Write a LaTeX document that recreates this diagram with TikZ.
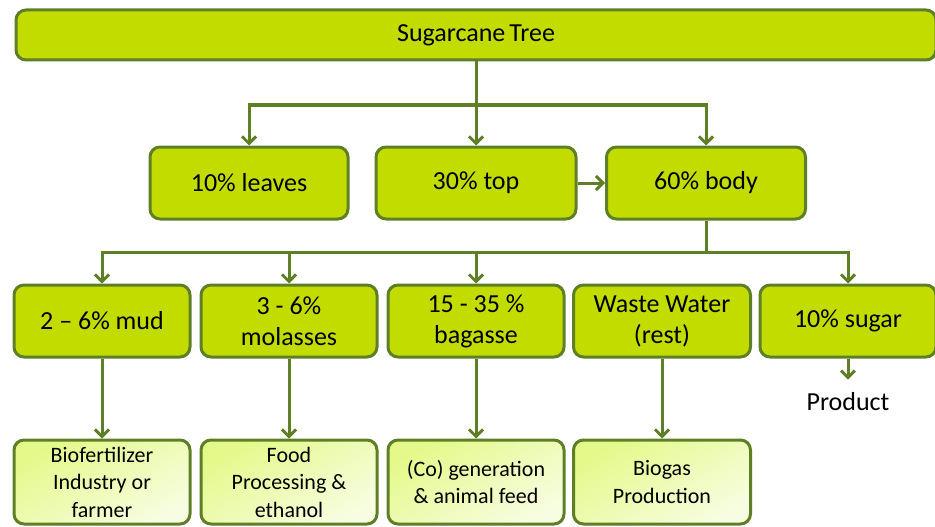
\documentclass[tikz,border=0pt]{standalone}
\usepackage{fontspec}
\setmainfont{Carlito}
\usetikzlibrary{arrows.meta}
\definecolor{boxfill}{HTML}{C3DC00}
\definecolor{boxline}{HTML}{5F7F27}
\definecolor{lightA}{HTML}{E4F98A}
\definecolor{lightB}{HTML}{F7FDE0}
\begin{document}
\begin{tikzpicture}[x=1pt,y=-1pt,
  mainbox/.style={draw=boxline, line width=3pt, fill=boxfill, rounded corners=10pt,
    minimum height=72pt, inner sep=0pt, align=center, font=\fontsize{26}{31}\selectfont},
  leafbox/.style={draw=boxline, line width=3pt, rounded corners=10pt,
    top color=lightA, bottom color=lightB, shading angle=30,
    minimum width=176pt, minimum height=84pt, inner sep=0pt, align=center,
    font=\fontsize{22}{27.5}\selectfont},
  link/.style={draw=boxline, line width=3pt},
  arr/.style={link, -{Straight Barb[length=7pt,width=14pt,line width=3pt]}}
]
\useasboundingbox (0,0) rectangle (935,527);
% top
\node[mainbox, minimum width=920pt, minimum height=50pt, font=\fontsize{26}{30}\selectfont] (tree) at (476,35) {Sugarcane\hspace{-2pt} Tree};
% row 2
\node[mainbox, minimum width=198pt] (leaves) at (249,183) {10\% leaves};
\node[mainbox, minimum width=200pt] (topp) at (476,183) {30\% top};
\node[mainbox, minimum width=199pt] (body) at (706,183) {60\% body};
% row 3
\node[mainbox, minimum width=176pt] (mud) at (102,321) {2 – 6\% mud};
\node[mainbox, minimum width=176pt] (mol) at (289,321) {3 - 6\%\\molasses};
\node[mainbox, minimum width=176pt] (bag) at (476,321) {15 - 35 \%\\bagasse};
\node[mainbox, minimum width=177pt] (ww) at (662,321) {Waste Water\\(rest)};
\node[mainbox, minimum width=176pt] (sugar) at (848,321) {10\% sugar};
% row 4
\node[leafbox] (bio) at (102,482) {Biofertilizer\\Industry or\\farmer};
\node[leafbox] (food) at (289,482) {Food\\Processing \&\\ethanol};
\node[leafbox] (cogen) at (476,482) {(Co) generation\\\& animal feed};
\node[leafbox, minimum width=177pt] (biogas) at (662,482) {Biogas\\Production};
\node[font=\fontsize{26}{30}\selectfont, inner xsep=0pt, inner ysep=13pt] (product) at (848,402) {Product};
% connectors
\coordinate (j1) at (476,105);
\coordinate (j2) at (706,252);
\draw[link] (tree.south) -- (j1);
\draw[arr] (j1) -| (leaves.north);
\draw[arr] (j1) -- (topp.north);
\draw[arr] (j1) -| (body.north);
\draw[arr] (topp.east) -- (body.west);
\draw[link] (body.south) -- (j2);
\draw[arr] (j2) -| (mud.north);
\draw[arr] (j2) -| (mol.north);
\draw[arr] (j2) -| (bag.north);
\draw[arr] (j2) -| (sugar.north);
\draw[arr] (mud.south) -- (bio.north);
\draw[arr] (mol.south) -- (food.north);
\draw[arr] (bag.south) -- (cogen.north);
\draw[arr] (ww.south) -- (biogas.north);
\draw[arr] (sugar.south) -- (product.north);
\end{tikzpicture}
\end{document}
